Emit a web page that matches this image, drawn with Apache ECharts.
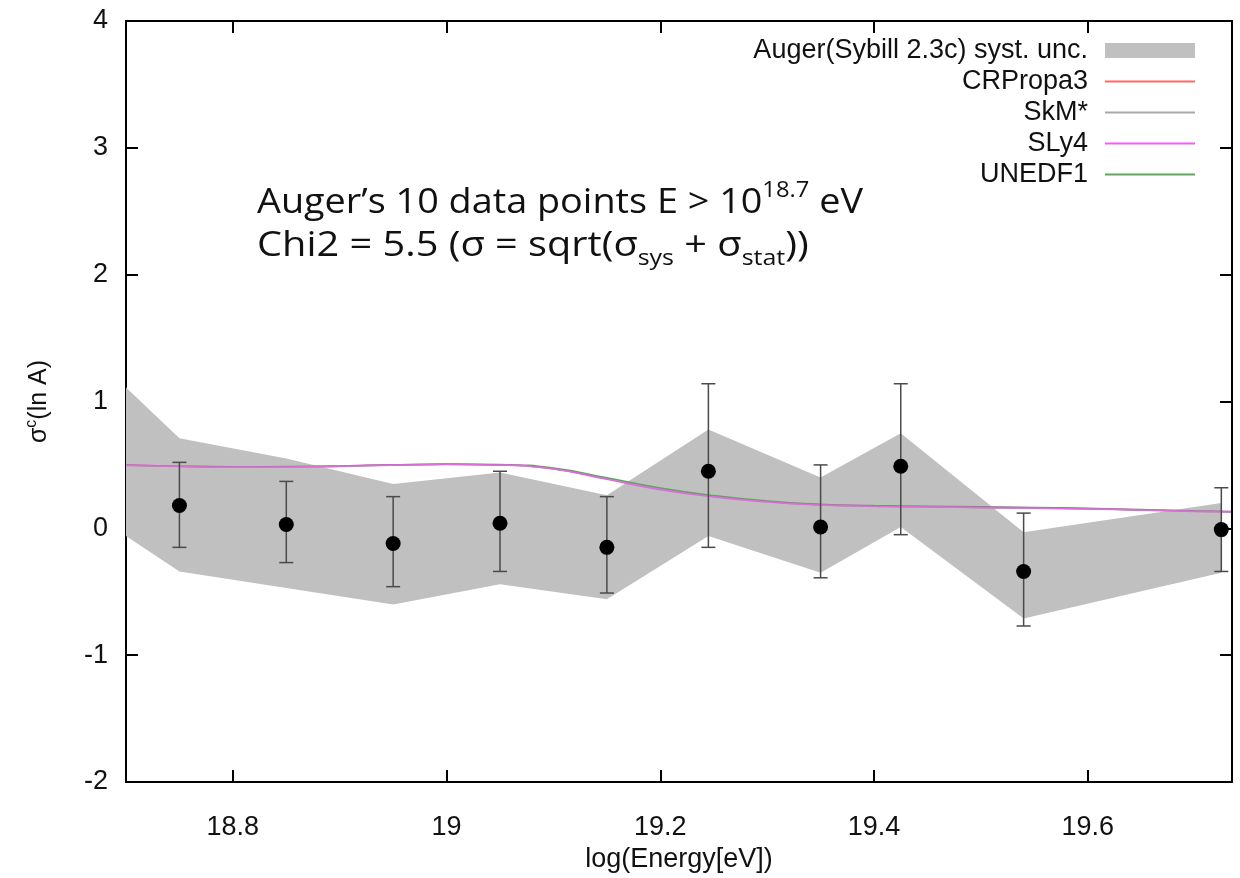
<!doctype html>
<html>
<head>
<meta charset="UTF-8" />
<title>sigma(ln A) vs log(Energy)</title>
<script src="https://cdn.jsdelivr.net/npm/echarts/dist/echarts.min.js"></script>
<style>
  html, body { margin: 0; padding: 0; background: #fff; }
  #main { width: 1240px; height: 878px; }
</style>
</head>
<body>
<div id="main"></div>
<script>
// Auger data points
const energy = [18.75, 18.85, 18.95, 19.05, 19.15, 19.245, 19.35, 19.425, 19.54, 19.725];
const sigmaLnA = [0.18, 0.03, -0.12, 0.04, -0.15, 0.45, 0.01, 0.49, -0.34, -0.01];
const errLow = [-0.15, -0.27, -0.46, -0.34, -0.51, -0.15, -0.39, -0.05, -0.77, -0.34];
const errHigh = [0.52, 0.37, 0.25, 0.45, 0.25, 1.14, 0.50, 1.14, 0.12, 0.32];

// systematic uncertainty band
const bandX = [18.7, 18.75, 18.85, 18.95, 19.05, 19.15, 19.245, 19.35, 19.425, 19.54, 19.725];
const bandHigh = [1.11, 0.71, 0.55, 0.35, 0.44, 0.26, 0.78, 0.40, 0.75, -0.03, 0.20];
const bandLow = [-0.06, -0.34, -0.47, -0.60, -0.44, -0.56, -0.06, -0.35, 0.01, -0.71, -0.35];

// model curves
const modelX = [18.7, 18.75, 18.8, 18.85, 18.9, 18.95, 19.0, 19.05, 19.1, 19.15, 19.2, 19.25, 19.3, 19.35, 19.4, 19.45, 19.5, 19.55, 19.6, 19.65, 19.7, 19.735];
const crpropa3 = [0.50, 0.49, 0.485, 0.485, 0.49, 0.50, 0.505, 0.50, 0.47, 0.39, 0.31, 0.25, 0.21, 0.185, 0.175, 0.17, 0.165, 0.16, 0.155, 0.145, 0.135, 0.13];
const skm = [0.50, 0.49, 0.485, 0.485, 0.49, 0.50, 0.505, 0.50, 0.47, 0.39, 0.31, 0.25, 0.21, 0.185, 0.175, 0.17, 0.165, 0.16, 0.155, 0.145, 0.135, 0.13];
const sly4 = [0.495, 0.487, 0.482, 0.483, 0.488, 0.498, 0.503, 0.498, 0.468, 0.386, 0.305, 0.247, 0.207, 0.183, 0.173, 0.168, 0.163, 0.158, 0.152, 0.143, 0.133, 0.128];
const unedf1 = [0.50, 0.49, 0.486, 0.487, 0.492, 0.502, 0.507, 0.503, 0.476, 0.398, 0.318, 0.258, 0.216, 0.19, 0.18, 0.175, 0.17, 0.165, 0.158, 0.148, 0.138, 0.133];

const xTicks = [18.8, 19, 19.2, 19.4, 19.6];
const xRange = [18.7, 19.735];
const yRange = [-2, 4];

const chart = echarts.init(document.getElementById('main'));
const font = 'Liberation Sans';

const pts = energy.map((x, i) => [x, sigmaLnA[i]]);
const bars = energy.map((x, i) => [x, errLow[i], errHigh[i]]);
const band = bandX.map((x, i) => [x, bandLow[i], bandHigh[i]]);
const line = arr => modelX.map((x, i) => [x, arr[i]]);

const axisCommon = {
  type: 'value',
  axisLine: { show: true, onZero: false, lineStyle: { color: '#000', width: 2 } },
  splitLine: { show: false },
  axisTick: { show: true, inside: true, length: 12, lineStyle: { color: '#000', width: 2 } }
};

function model(name, data, color) {
  return {
    name: name, type: 'line', data: data, smooth: true, symbol: 'none', z: 3,
    lineStyle: { color: color, width: 1.5 }, itemStyle: { color: color }
  };
}

// top and right edges of the border, drawn as plain line series on the axis extents
function edge(name, data) {
  return {
    name: name, type: 'line', data: data, symbol: 'none', clip: false, silent: true, z: 20,
    lineStyle: { color: '#000', width: 2 }, itemStyle: { color: '#000' }
  };
}

chart.setOption({
  animation: false,
  grid: { left: 126, right: 8, top: 21, bottom: 96 },
  legend: {
    orient: 'vertical',
    right: 39,
    top: 32,
    align: 'right',
    itemWidth: 90,
    itemHeight: 15,
    itemGap: 4,
    itemStyle: { opacity: 0 },
    textStyle: { fontFamily: font, fontSize: 27, color: '#111', padding: [0, 12, 0, 0] },
    data: [
      { name: 'Auger(Sybill 2.3c) syst. unc.', icon: 'rect', itemStyle: { opacity: 1, color: '#c0c0c0' } },
      'CRPropa3', 'SkM*', 'SLy4', 'UNEDF1'
    ]
  },
  xAxis: [
    Object.assign({}, axisCommon, {
      position: 'bottom', min: xRange[0], max: xRange[1],
      axisTick: Object.assign({}, axisCommon.axisTick, { customValues: xTicks }),
      axisLabel: { customValues: xTicks, margin: 32, fontFamily: font, fontSize: 27, color: '#111' },
      name: 'log(Energy[eV])', nameLocation: 'middle', nameGap: 59,
      nameTextStyle: { fontFamily: font, fontSize: 27, color: '#111' }
    }),
    Object.assign({}, axisCommon, {
      position: 'top', min: xRange[0], max: xRange[1],
      axisTick: Object.assign({}, axisCommon.axisTick, { customValues: xTicks }),
      axisLabel: { show: false }
    })
  ],
  yAxis: [
    Object.assign({}, axisCommon, {
      position: 'left', min: yRange[0], max: yRange[1], interval: 1,
      axisLabel: { margin: 18, fontFamily: font, fontSize: 27, color: '#111' },
      name: '{s|σ}{c|c}{s|(ln A)}', nameLocation: 'middle', nameGap: 72,
      nameTextStyle: {
        rich: {
          s: { fontFamily: font, fontSize: 25, color: '#111', lineHeight: 30 },
          c: { fontFamily: font, fontSize: 16, color: '#111', lineHeight: 12, verticalAlign: 'top' }
        }
      }
    }),
    Object.assign({}, axisCommon, {
      position: 'right', min: yRange[0], max: yRange[1], interval: 1,
      axisLabel: { show: false }
    })
  ],
  graphic: [
    {
      type: 'text', left: 257, top: 180, scaleX: 1.08,
      style: {
        text: '{t|Auger’s 10 data points E > 10}{sup|18.7}{t| eV}',
        rich: {
          t: { fontFamily: 'Open Sans', fontSize: 35, fill: '#111', lineHeight: 46 },
          sup: { fontFamily: 'Open Sans', fontSize: 22, fill: '#111', lineHeight: 24, verticalAlign: 'top' }
        }
      }
    },
    {
      type: 'text', left: 257, top: 229, scaleX: 1.135,
      style: {
        text: '{t|Chi2 = 5.5 (σ = sqrt(σ}{sub|sys}{t| + σ}{sub|stat}{t|))}',
        rich: {
          t: { fontFamily: 'Open Sans', fontSize: 35, fill: '#111', lineHeight: 46 },
          sub: { fontFamily: 'Open Sans', fontSize: 22, fill: '#111', lineHeight: 26, verticalAlign: 'bottom' }
        }
      }
    }
  ],
  series: [
    {
      name: 'Auger(Sybill 2.3c) syst. unc.',
      type: 'custom',
      itemStyle: { color: '#c0c0c0' },
      data: band,
      z: 1,
      renderItem: function (params, api) {
        if (params.dataIndex !== 0) return;
        const upper = band.map(d => api.coord([d[0], d[2]]));
        const lower = band.map(d => api.coord([d[0], d[1]])).reverse();
        return {
          type: 'polygon',
          shape: { points: upper.concat(lower) },
          style: { fill: '#c0c0c0' }
        };
      }
    },
    model('CRPropa3', line(crpropa3), '#ff6b6b'),
    model('SkM*', line(skm), '#a8a8a8'),
    model('UNEDF1', line(unedf1), '#5aa85a'),
    model('SLy4', line(sly4), '#f060f0'),
    {
      name: 'errors',
      type: 'custom',
      data: bars,
      z: 4,
      renderItem: function (params, api) {
        const lo = api.coord([api.value(0), api.value(1)]);
        const hi = api.coord([api.value(0), api.value(2)]);
        const w = 7;
        const st = { stroke: '#4a4a4a', lineWidth: 1.5 };
        return {
          type: 'group',
          children: [
            { type: 'line', shape: { x1: lo[0], y1: lo[1], x2: hi[0], y2: hi[1] }, style: st },
            { type: 'line', shape: { x1: lo[0] - w, y1: lo[1], x2: lo[0] + w, y2: lo[1] }, style: st },
            { type: 'line', shape: { x1: hi[0] - w, y1: hi[1], x2: hi[0] + w, y2: hi[1] }, style: st }
          ]
        };
      }
    },
    {
      name: 'Auger data',
      type: 'scatter',
      data: pts,
      symbol: 'circle',
      symbolSize: 15,
      z: 5,
      itemStyle: { color: '#000', opacity: 1 }
    },
    edge('border-top', [[xRange[0], yRange[1]], [xRange[1], yRange[1]]]),
    edge('border-right', [[xRange[1], yRange[1]], [xRange[1], yRange[0]]])
  ]
});
</script>
</body>
</html>
